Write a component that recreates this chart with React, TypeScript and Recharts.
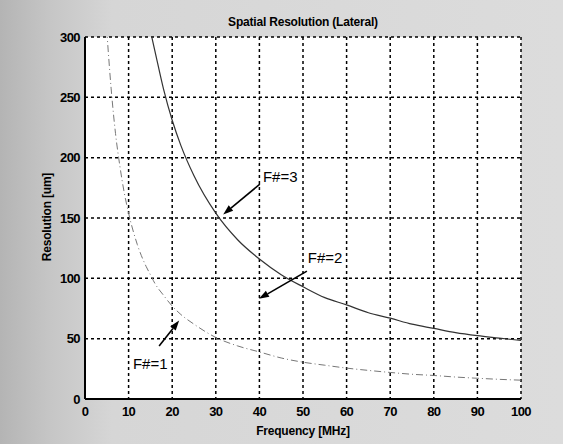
import React from 'react';
import {
  LineChart,
  Line,
  XAxis,
  YAxis,
  CartesianGrid,
  ReferenceLine,
  ReferenceDot
} from 'recharts';

// frequency (MHz) sample points
const freq = [5, 6, 7, 8, 9, 10, 12, 14, 15, 16, 18, 20, 22, 25, 30, 35, 40, 45, 50, 55, 60, 65, 70, 75, 80, 85, 90, 95, 100];
// F#=1 curve (um)
const fNum1 = [305, 257, 220, 193, 171, 154, 128, 110, 103, 96, 86, 77, 70, 62, 51, 44, 39, 34, 30.5, 28, 25.6, 23.7, 22, 20.5, 19.5, 18.2, 17.2, 16.3, 15.6];
// F#=3 curve (um), off the top below 15 MHz
const fNum3 = [null, null, null, null, null, null, null, null, 305, 289, 257, 231, 210, 185, 154, 132, 116, 103, 93, 84, 78, 71.5, 67, 62, 58.5, 55, 52.5, 50.5, 48.5];

const xTicks = [0, 10, 20, 30, 40, 50, 60, 70, 80, 90, 100];
const yTicks = [0, 50, 100, 150, 200, 250, 300];

// annotations: text anchor and arrow tail -> head, in data units
const noteText = ['F#=3', 'F#=2', 'F#=1'];
const noteAt = [[40.8, 184], [51.1, 117], [11, 29]];
const arrowTail = [[40.1, 178], [50.9, 106], [17, 44]];
const arrowHead = [[31.7, 153], [39.9, 83], [21.6, 65]];

const data = freq.map((f, i) => ({ f, n1: fNum1[i], n3: fNum3[i] }));

const font = '"Liberation Sans", Arial, sans-serif';

const Arrow = (props: any) => {
  const { x1, y1, x2, y2 } = props;
  const a = Math.atan2(y2 - y1, x2 - x1);
  const len = 10;
  const w = 3.5;
  const bx = x2 - len * Math.cos(a);
  const by = y2 - len * Math.sin(a);
  const px = -Math.sin(a) * w;
  const py = Math.cos(a) * w;
  return (
    <g>
      <line x1={x1} y1={y1} x2={bx} y2={by} stroke="#000" strokeWidth={1.6} />
      <polygon points={`${x2},${y2} ${bx + px},${by + py} ${bx - px},${by - py}`} fill="#000" />
    </g>
  );
};

export default function App() {
  const tick = { fontSize: 13, fontWeight: 'bold', fill: '#000', fontFamily: font, letterSpacing: -0.6 };
  return (
    <div
      style={{
        position: 'absolute',
        left: 0,
        top: 0,
        width: 563,
        height: 444,
        background: 'linear-gradient(to right, #b4b4b4 0%, #c6c6c6 9%, #d6d6d6 20%, #dcdcdc 100%)',
        fontFamily: font
      }}
    >
      <div
        style={{
          position: 'absolute',
          left: 85,
          width: 436,
          top: 15,
          textAlign: 'center',
          fontSize: 12,
          fontWeight: 'bold',
          letterSpacing: -0.2
        }}
      >
        Spatial Resolution (Lateral)
      </div>
      <div
        style={{
          position: 'absolute',
          left: 85,
          width: 436,
          top: 424,
          textAlign: 'center',
          fontSize: 12,
          fontWeight: 'bold',
          letterSpacing: -0.2
        }}
      >
        Frequency [MHz]
      </div>
      <div
        style={{
          position: 'absolute',
          left: -3,
          width: 100,
          top: 210,
          textAlign: 'center',
          fontSize: 12,
          fontWeight: 'bold',
          letterSpacing: -0.2,
          transform: 'rotate(-90deg)'
        }}
      >
        Resolution [um]
      </div>
      <LineChart
        width={563}
        height={444}
        data={data}
        margin={{ top: 37, right: 42, left: 40, bottom: 15 }}
        style={{ position: 'absolute', left: 0, top: 0 }}
      >
        <CartesianGrid
          stroke="#000"
          strokeWidth={1.5}
          strokeDasharray="3 3"
          fill="#fff"
          fillOpacity={1}
        />
        <XAxis
          dataKey="f"
          type="number"
          domain={[0, 100]}
          ticks={xTicks}
          height={30}
          tick={tick}
          tickLine={false}
          axisLine={{ stroke: '#000', strokeWidth: 2 }}
          interval={0}
        />
        <XAxis
          xAxisId="top"
          orientation="top"
          dataKey="f"
          type="number"
          domain={[0, 100]}
          height={0}
          tick={false}
          tickLine={false}
          axisLine={{ stroke: '#000', strokeWidth: 2 }}
        />
        <YAxis
          type="number"
          domain={[0, 300]}
          ticks={yTicks}
          width={45}
          tick={tick}
          tickLine={false}
          tickSize={3}
          allowDataOverflow
          axisLine={{ stroke: '#000', strokeWidth: 2 }}
          interval={0}
        />
        <YAxis
          yAxisId="right"
          orientation="right"
          type="number"
          domain={[0, 300]}
          width={0}
          tick={false}
          tickLine={false}
          axisLine={{ stroke: '#000', strokeWidth: 2 }}
        />
        <Line
          type="monotone"
          dataKey="n1"
          stroke="#777"
          strokeWidth={1}
          strokeDasharray="7 3 1 3"
          dot={false}
          isAnimationActive={false}
        />
        <Line
          type="monotone"
          dataKey="n3"
          stroke="#333"
          strokeWidth={1.2}
          dot={false}
          isAnimationActive={false}
        />
        {arrowTail.map((t, i) => (
          <ReferenceLine
            key={'a' + i}
            segment={[
              { x: t[0], y: t[1] },
              { x: arrowHead[i][0], y: arrowHead[i][1] }
            ]}
            shape={Arrow}
          />
        ))}
        {noteAt.map((p, i) => (
          <ReferenceDot
            key={'n' + i}
            x={p[0]}
            y={p[1]}
            r={0}
            fill="none"
            stroke="none"
            label={{ value: noteText[i], position: 'right', offset: 0, fill: '#000', fontSize: 15, fontFamily: font }}
          />
        ))}
      </LineChart>
    </div>
  );
}
